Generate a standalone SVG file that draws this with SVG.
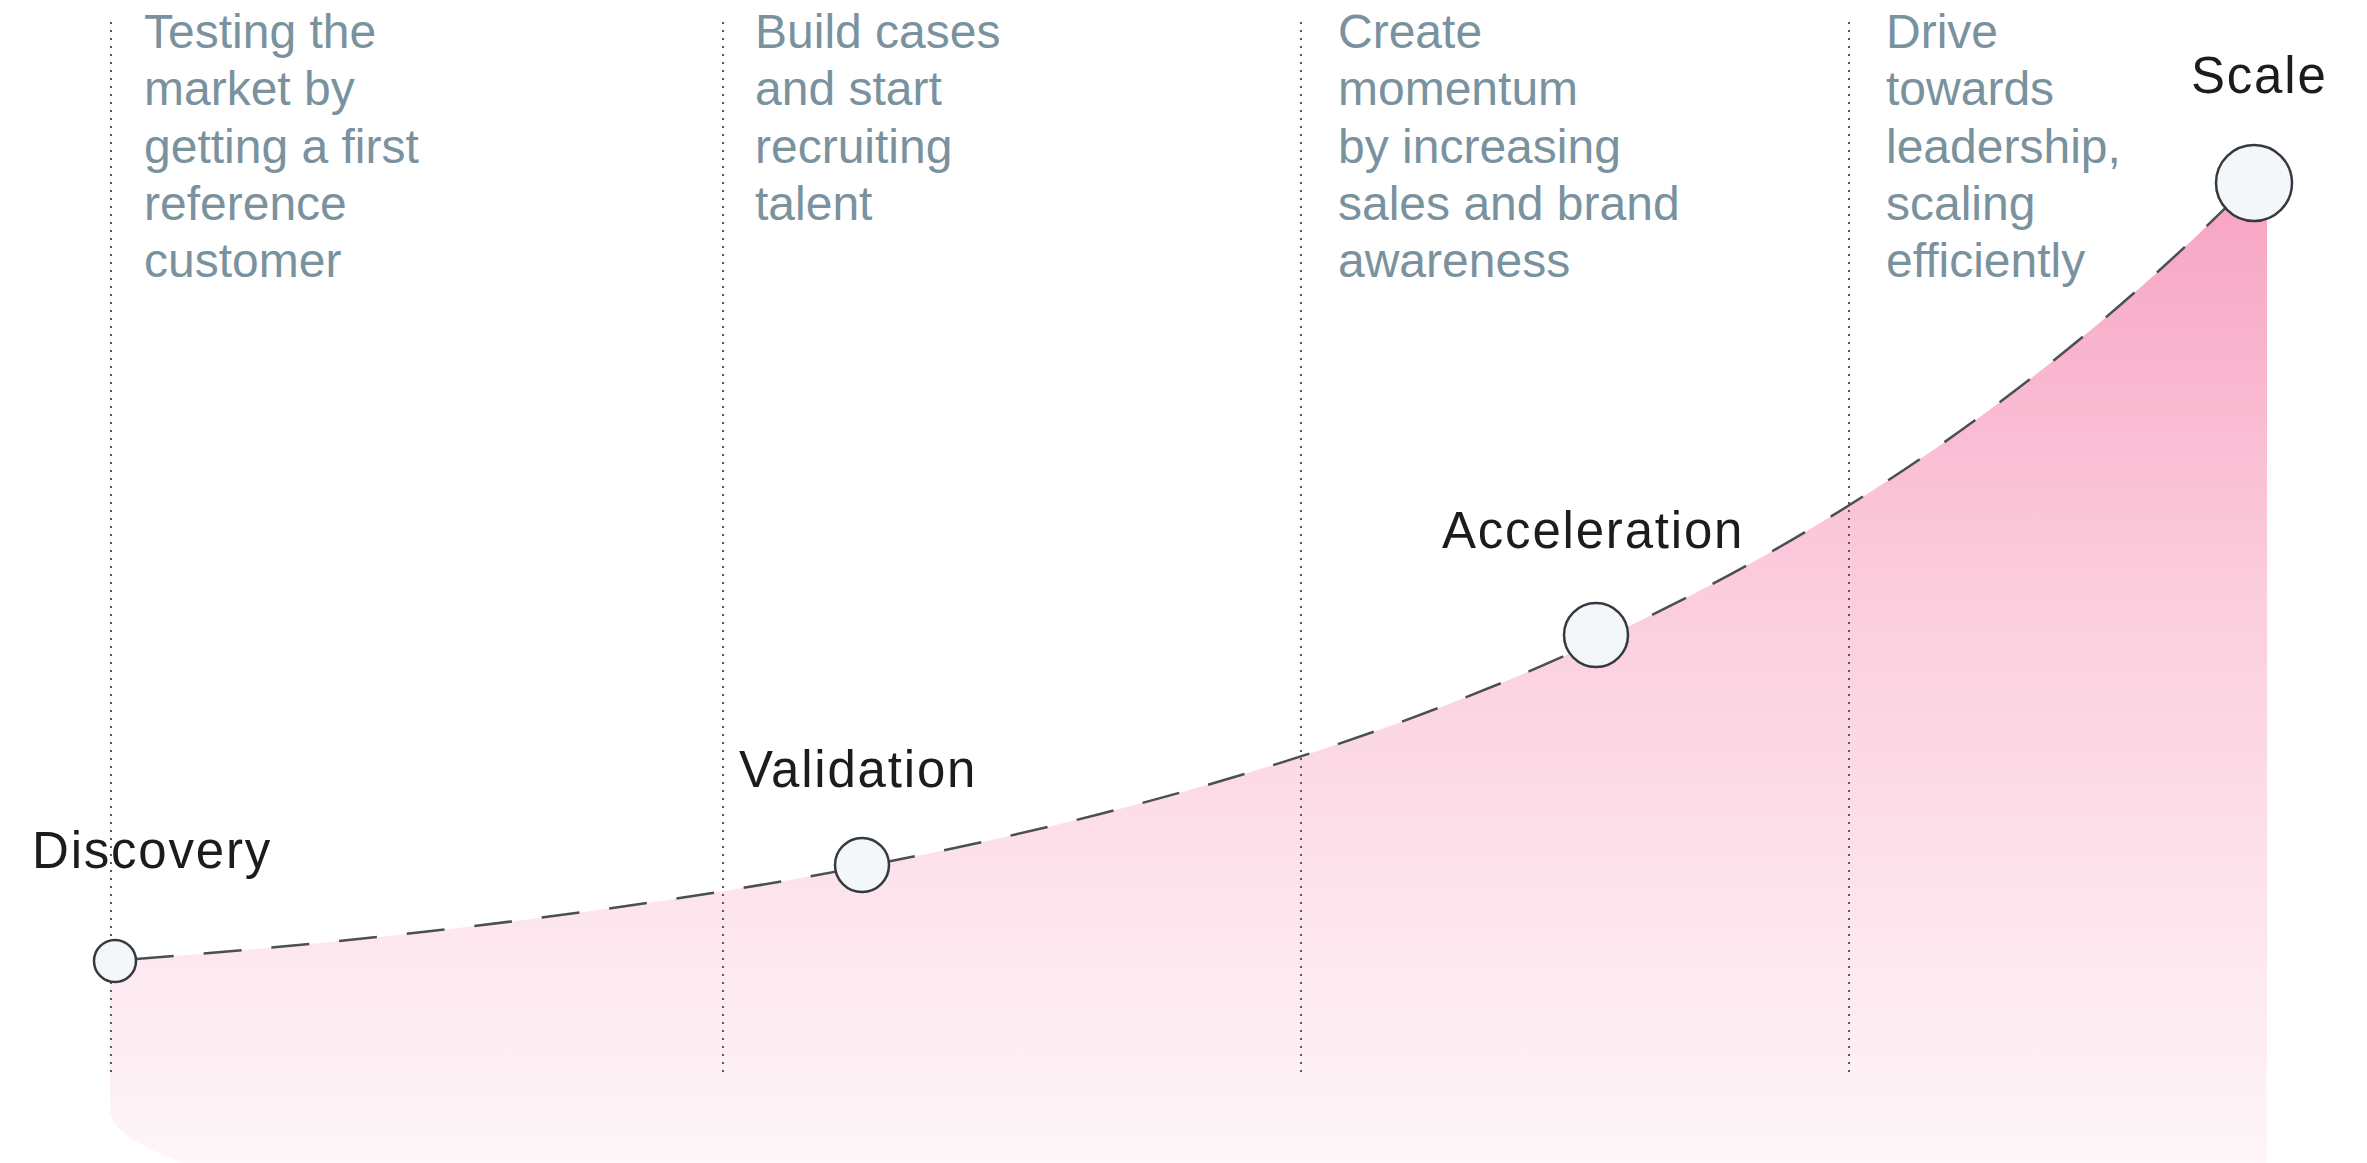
<svg xmlns="http://www.w3.org/2000/svg" width="2367" height="1163" viewBox="0 0 2367 1163">
<defs>
<linearGradient id="pink" gradientUnits="userSpaceOnUse" x1="0" y1="180" x2="0" y2="1163">
<stop offset="0" stop-color="#f7a3c2"/>
<stop offset="0.4" stop-color="#fbcbdc"/>
<stop offset="0.75" stop-color="#fde5ed"/>
<stop offset="1" stop-color="#fef6f9"/>
</linearGradient>
</defs>
<style>
.desc{font-family:"Liberation Sans",Arial,sans-serif;font-size:48px;fill:#7a929e}
.label{font-family:"Liberation Sans",Arial,sans-serif;font-size:51px;fill:#1c1c1c;letter-spacing:1.8px}
.guide{stroke:#555a5f;stroke-width:2;stroke-dasharray:2 6;fill:none}
.curve{stroke:#4a4f55;stroke-width:2.5;stroke-dasharray:38 30;fill:none}
.dot{fill:#f4f7f9;stroke:#343a40;stroke-width:2.5}
</style>
<rect width="2367" height="1163" fill="#ffffff"/>
<path id="area" d="M110,961 L115,961 C276.7,948.4 438.3,932.3 600,909.7 C766.7,886.4 933.3,856.4 1100,814 C1266.7,771.6 1433.3,717.1 1600,639.8 C1733.3,578 1866.7,501.7 2000,401.9 C2084.7,338.5 2169.3,265.5 2254,179.4 L2267,179.4 L2267,1163 L185,1163 Q118,1140 110,1115 Z" fill="url(#pink)"/>
<g id="guides">
<line class="guide" x1="111" y1="22" x2="111" y2="1072"/>
<line class="guide" x1="723" y1="22" x2="723" y2="1072"/>
<line class="guide" x1="1301" y1="22" x2="1301" y2="1072"/>
<line class="guide" x1="1849" y1="22" x2="1849" y2="1072"/>
</g>
<g id="connectors">
<path class="curve" d="M136,959 C276.7,948.4 438.3,932.3 600,909.7 C766.7,886.4 933.3,856.4 1100,814 C1266.7,771.6 1433.3,717.1 1600,639.8 C1733.3,578 1866.7,501.7 2000,401.9 C2084.7,338.5 2169.3,265.5 2254,179.4"/>
</g>
<g id="col1" class="desc">
<text x="144" y="48">Testing the</text>
<text x="144" y="105">market by</text>
<text x="144" y="163">getting a first</text>
<text x="144" y="220">reference</text>
<text x="144" y="277">customer</text>
</g>
<g id="col2" class="desc">
<text x="755" y="48">Build cases</text>
<text x="755" y="105">and start</text>
<text x="755" y="163">recruiting</text>
<text x="755" y="220">talent</text>
</g>
<g id="col3" class="desc">
<text x="1338" y="48">Create</text>
<text x="1338" y="105">momentum</text>
<text x="1338" y="163">by increasing</text>
<text x="1338" y="220">sales and brand</text>
<text x="1338" y="277">awareness</text>
</g>
<g id="col4" class="desc">
<text x="1886" y="48">Drive</text>
<text x="1886" y="105">towards</text>
<text x="1886" y="163">leadership,</text>
<text x="1886" y="220">scaling</text>
<text x="1886" y="277">efficiently</text>
</g>
<g id="discovery">
<circle class="dot" cx="115" cy="961" r="21"/>
<text class="label" x="32" y="868">Discovery</text>
</g>
<g id="validation">
<circle class="dot" cx="862" cy="865" r="27"/>
<text class="label" x="739" y="787">Validation</text>
</g>
<g id="acceleration">
<circle class="dot" cx="1596" cy="635" r="32"/>
<text class="label" x="1442" y="548">Acceleration</text>
</g>
<g id="scale">
<circle class="dot" cx="2254" cy="183" r="38"/>
<text class="label" x="2191" y="93">Scale</text>
</g>
</svg>
